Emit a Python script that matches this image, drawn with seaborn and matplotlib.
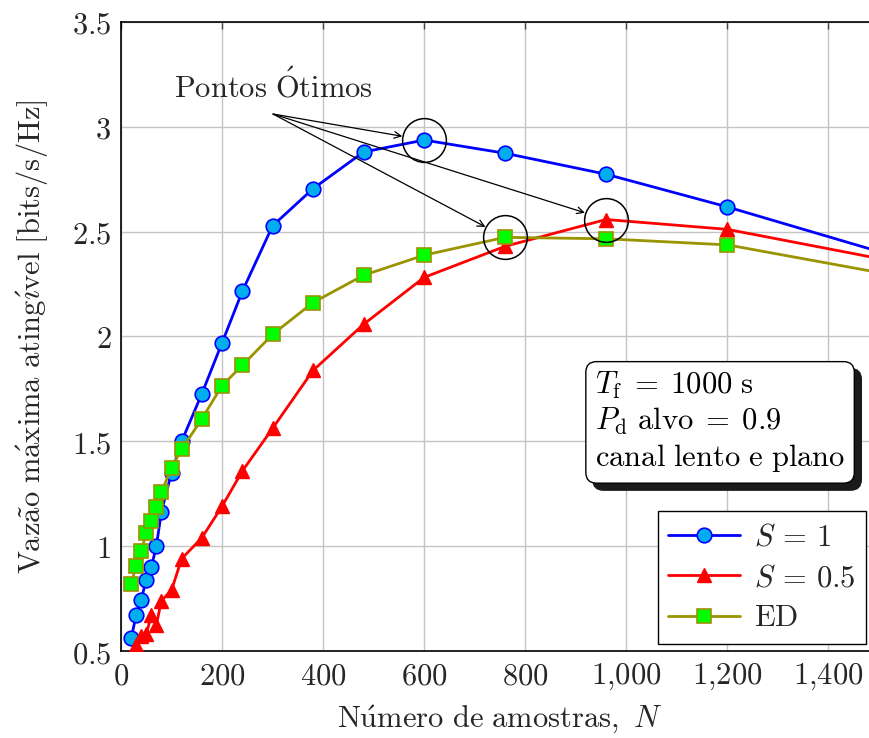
import numpy as np
import pandas as pd
import matplotlib
matplotlib.use("Agg")
import matplotlib.pyplot as plt
import matplotlib.transforms as mtransforms
from matplotlib.patches import FancyBboxPatch
import seaborn as sns

# ---------------- data ----------------
n_samples = [20, 30, 40, 50, 60, 70, 80, 100, 120, 160, 200, 240, 300, 380, 480, 600, 760, 960, 1200, 1500]
s1_values = [0.56, 0.67, 0.745, 0.84, 0.90, 1.00, 1.165, 1.35, 1.50, 1.727, 1.97, 2.215, 2.528, 2.705, 2.88, 2.937,
             2.874, 2.774, 2.618, 2.405]
s05_values = [0.44, 0.53, 0.57, 0.58, 0.67, 0.625, 0.74, 0.79, 0.94, 1.04, 1.19, 1.358, 1.562, 1.838, 2.058, 2.282,
              2.43, 2.558, 2.511, 2.372]
ed_values = [0.819, 0.907, 0.977, 1.062, 1.122, 1.189, 1.257, 1.375, 1.462, 1.607, 1.766, 1.862, 2.01, 2.162, 2.292,
             2.388, 2.473, 2.466, 2.437, 2.305]
series_labels = [r'$S\,=\,1$', r'$S\,=\,0.5$', r'$\mathrm{ED}$']

x_ticks = [0, 200, 400, 600, 800, 1000, 1200, 1400]
x_tick_labels = ['0', '200', '400', '600', '800', '1,000', '1,200', '1,400']
y_ticks = [0.5, 1.0, 1.5, 2.0, 2.5, 3.0, 3.5]
y_tick_labels = ['0.5', '1', '1.5', '2', '2.5', '3', '3.5']

x_label = r'$\mathrm{N\acute{u}mero\ de\ amostras,}\ N$'
y_label = r'$\mathrm{Vaz\tilde{a}o\ m\acute{a}xima\ ating\acute{\imath}vel\ [bits/s/Hz]}$'
note_text = r'$\mathrm{Pontos\ \acute{O}timos}$'
box_lines = [r'$T_{\mathrm{f}}\;=\;1000\ \mathrm{s}$',
             r'$P_{\mathrm{d}}\ \mathrm{alvo}\;=\;0.9$',
             r'$\mathrm{canal\ lento\ e\ plano}$']

# ---------------- style ----------------
sns.set_style("white")
plt.rcParams['mathtext.fontset'] = 'cm'
plt.rcParams['font.family'] = ['DejaVu Serif']
FS = 22

fig = plt.figure(figsize=(8.7, 7.38), dpi=100)
ax = fig.add_axes([121 / 870, 1 - 651 / 738, (879 - 121) / 870, (651 - 22) / 738])

blue = '#0000ff'
red = '#ff0000'
olive = '#9a9400'

df1 = pd.DataFrame({'N': n_samples, 'v': s1_values})
df2 = pd.DataFrame({'N': n_samples, 'v': s05_values})
df3 = pd.DataFrame({'N': n_samples, 'v': ed_values})

sns.lineplot(data=df1, x='N', y='v', ax=ax, color=blue, lw=2.0, marker='o', markersize=10.5,
             markerfacecolor='#00aeef', markeredgecolor=blue, markeredgewidth=1.2,
             label=series_labels[0], sort=False, zorder=3)
sns.lineplot(data=df2, x='N', y='v', ax=ax, color=red, lw=2.0, marker='^', markersize=10.5,
             markerfacecolor=red, markeredgecolor=red, markeredgewidth=1.0,
             label=series_labels[1], sort=False, zorder=4)
sns.lineplot(data=df3, x='N', y='v', ax=ax, color=olive, lw=2.0, marker='s', markersize=10.5,
             markerfacecolor='#00ff00', markeredgecolor=olive, markeredgewidth=1.2,
             label=series_labels[2], sort=False, zorder=5)

ax.set_xlim(0, 1500)
ax.set_ylim(0.5, 3.5)
ax.set_xticks(x_ticks)
ax.set_xticklabels(['$' + t.replace(',', '{,}') + '$' for t in x_tick_labels])
ax.set_yticks(y_ticks)
ax.set_yticklabels(['$' + t + '$' for t in y_tick_labels])

ax.tick_params(axis='both', direction='in', length=5, width=1.0, color='#444444',
               top=True, right=True, labelsize=FS, pad=7)
ax.grid(True, color='#c4c4c4', lw=1.0)
ax.set_axisbelow(True)
for sp in ax.spines.values():
    sp.set_linewidth(1.2)
    sp.set_color('black')

ax.set_xlabel(x_label, fontsize=FS, labelpad=9)
ax.set_ylabel(y_label, fontsize=FS, labelpad=16)

# optimum circles
opt_pts = []
for vals in (s1_values, ed_values, s05_values):
    i = int(np.argmax(vals))
    opt_pts.append((n_samples[i], vals[i]))
for (xo, yo) in opt_pts:
    ax.plot([xo], [yo], marker='o', ms=31.5, mfc='none', mec='black', mew=1.1, zorder=6)

note_xy = (301, 3.061)
ax.text(301, 3.19, note_text, fontsize=FS, ha='center', va='center')
for (xo, yo) in opt_pts:
    ax.annotate('', xy=(xo, yo), xytext=note_xy,
                arrowprops=dict(arrowstyle='->', shrinkA=0, shrinkB=16, lw=0.9, color='black',
                                mutation_scale=12), zorder=7)

# info box with shadow
box_str = '\n'.join(box_lines)
tx, ty = (595 - 121) / 758, 1 - (370 - 22) / 629
box_txt = ax.text(tx, ty, box_str, transform=ax.transAxes, fontsize=FS, va='top', ha='left', color='black',
                  linespacing=1.2,
                  bbox=dict(boxstyle='round,pad=0.3,rounding_size=0.35', fc='white', ec='black', lw=1.0),
                  zorder=9)

leg = ax.legend(loc='lower right', bbox_to_anchor=(0.983, 7 / 629), borderaxespad=0.0, fontsize=FS,
                frameon=True, fancybox=False, edgecolor='black', framealpha=1.0, handlelength=2.35,
                handletextpad=0.45, borderpad=0.35, labelspacing=0.3)
leg.get_frame().set_linewidth(1.0)
leg.set_zorder(10)

fig.canvas.draw()
bb = box_txt.get_bbox_patch().get_window_extent()
rs = 0.35 * FS * fig.dpi / 72
shadow = FancyBboxPatch((bb.x0 + 7, bb.y0 - 7), bb.width, bb.height,
                        boxstyle=f'round,pad=0,rounding_size={rs}', fc='#1a1a1a', ec='#1a1a1a',
                        transform=mtransforms.IdentityTransform(), zorder=8, clip_on=False)
ax.add_patch(shadow)

fig.savefig('out.png', dpi=100)
